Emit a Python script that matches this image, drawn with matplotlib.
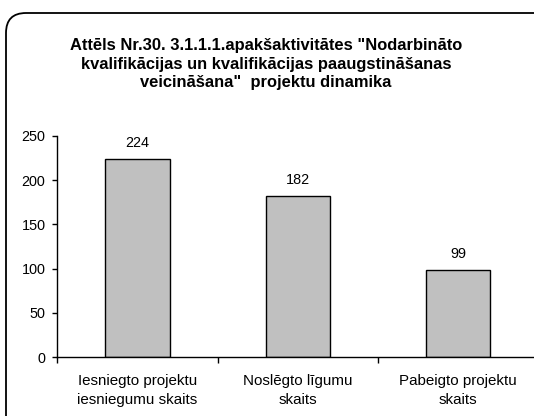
import matplotlib
matplotlib.use("Agg")
import matplotlib.pyplot as plt
from matplotlib.patches import FancyBboxPatch

categories = ["Iesniegto projektu\niesniegumu skaits", "Noslēgto līgumu\nskaits", "Pabeigto projektu\nskaits"]
values = [224, 182, 99]
yticks = [0, 50, 100, 150, 200, 250]
title = 'Attēls Nr.30. 3.1.1.1.apakšaktivitātes "Nodarbināto\nkvalifikācijas un kvalifikācijas paaugstināšanas\nveicināšana"  projektu dinamika'

plt.rcParams['font.family'] = ['Liberation Sans', 'DejaVu Sans']

W, H = 534, 416
fig = plt.figure(figsize=(W/100, H/100), dpi=100)

frame = FancyBboxPatch((6, -20), 560, 403 + 20, boxstyle="round,pad=0,rounding_size=20",
                       transform=None, facecolor='none', edgecolor='black', linewidth=1.3)
fig.patches.append(frame)

ax = fig.add_axes([57.3/W, (H-357.3)/H, (538.5-57.3)/W, 221.6/H])
x = list(range(len(values)))
bars = ax.bar(x, values, width=0.4, color='#c0c0c0', edgecolor='black', linewidth=1.0)
for xi, v in zip(x, values):
    ax.annotate(str(v), (xi, v), xytext=(0, 6.5), textcoords='offset points',
                ha='center', va='bottom', fontsize=10.4)

ax.set_xlim(-0.5, 2.5)
ax.set_ylim(0, 250)
ax.set_yticks(yticks)
ax.tick_params(axis='y', labelsize=10.4, length=3.5, width=1, direction='out', pad=5)
ax.set_xticks([-0.5, 0.5, 1.5, 2.5])
ax.set_xticklabels([])
ax.tick_params(axis='x', length=4, width=1, direction='out')
ax.set_xticks(x, minor=True)
ax.set_xticklabels(categories, minor=True, fontsize=10.9, linespacing=1.45)
ax.tick_params(axis='x', which='minor', length=0, pad=12)
for s in ['top', 'right']:
    ax.spines[s].set_visible(False)
ax.spines['left'].set_linewidth(1)
ax.spines['bottom'].set_linewidth(1)
ax.patch.set_visible(False)

fig.text(266/W, 1 - 64/H, title, ha='center', va='center', fontsize=11.9,
         fontweight='bold', linespacing=1.3)

fig.savefig("out.png", dpi=100)
